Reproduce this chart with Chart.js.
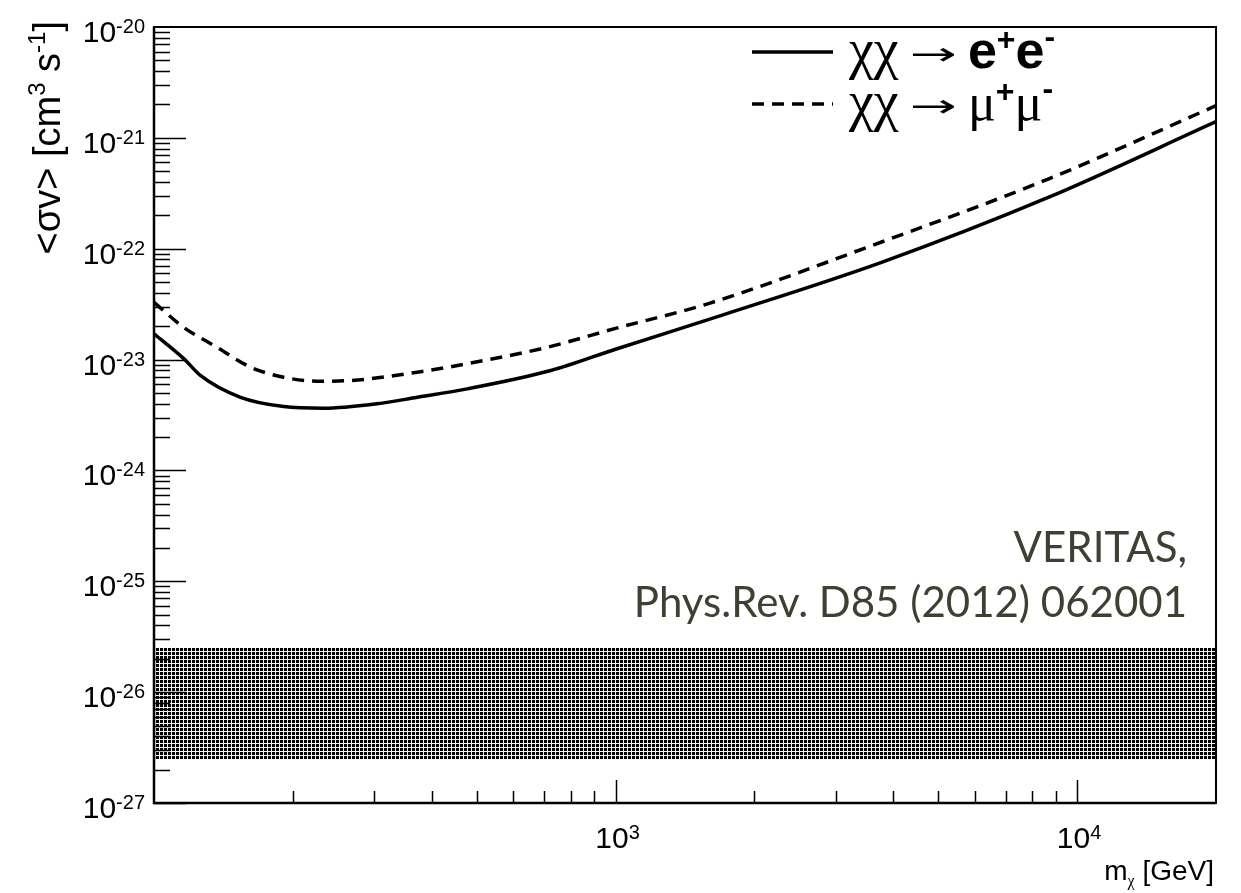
<!DOCTYPE html>
<html>
<head>
<meta charset="utf-8">
<script src="https://cdn.jsdelivr.net/npm/chart.js@4.4.1/dist/chart.umd.min.js"></script>
<style>
  html, body { margin: 0; padding: 0; background: #fff; }
  #wrap { width: 1241px; height: 893px; }
</style>
</head>
<body>
<div id="wrap"><canvas id="limits"></canvas></div>
<script>
// WIMP mass (GeV) and 95% upper limits on <sigma v> (cm^3 s^-1)
const massEE = [100, 116, 126, 154, 191, 233, 304, 372, 477, 724, 1000, 1690, 3770, 8660, 20000];
const sigmaEE = [1.71e-23, 1.02e-23, 7.2e-24, 4.57e-24, 3.77e-24, 3.64e-24, 3.99e-24, 4.57e-24, 5.44e-24, 7.96e-24, 1.24e-23, 2.49e-23, 7.53e-23, 2.90e-22, 1.40e-21];

const massMuMu = [100, 116, 137, 162, 191, 226, 266, 372, 518, 711, 1000, 1590, 3770, 8660, 20000];
const sigmaMuMu = [3.28e-23, 1.95e-23, 1.29e-23, 8.53e-24, 6.93e-24, 6.38e-24, 6.47e-24, 7.69e-24, 9.79e-24, 1.29e-23, 1.91e-23, 3.20e-23, 1.15e-22, 4.25e-22, 1.95e-21];

// thermal relic band
const bandMass = [100, 20000];
const bandLow = [2.5e-27, 2.5e-27];
const bandHigh = [2.5e-26, 2.5e-26];

// axis ranges and labelled decades
const xRange = [100, 20000];
const yRange = [1e-27, 1e-20];
const xLabelExps = [3, 4];
const yLabelExps = [-27, -26, -25, -24, -23, -22, -21, -20];

const SANS = '"Liberation Sans", Arial, sans-serif';
const SERIF = '"Liberation Serif", serif';

function pts(xs, ys) {
  return xs.map((x, i) => ({ x: x, y: ys[i] }));
}

// dark checker fill for the band
function hatch() {
  const c = document.createElement('canvas');
  c.width = 4; c.height = 4;
  const g = c.getContext('2d');
  g.fillStyle = '#f4f4f4';
  g.fillRect(0, 0, 4, 4);
  g.fillStyle = '#000';
  g.fillRect(0, 0, 3, 3);
  return g.createPattern(c, 'repeat');
}

// width of a run, with optional horizontal stretch to a set width
function partWidth(ctx, p) {
  ctx.font = p.font;
  return p.width || ctx.measureText(p.text).width;
}

function drawRich(ctx, parts, x, y, align) {
  let w = 0;
  parts.forEach(p => { w += partWidth(ctx, p); });
  let cx = x;
  if (align === 'right') cx = x - w;
  if (align === 'center') cx = x - w / 2;
  ctx.textAlign = 'left';
  ctx.textBaseline = 'alphabetic';
  parts.forEach(p => {
    ctx.font = p.font;
    const natural = ctx.measureText(p.text).width;
    const pw = partWidth(ctx, p);
    ctx.save();
    ctx.translate(cx, y + (p.dy || 0));
    ctx.scale(pw / natural, 1);
    ctx.fillText(p.text, 0, 0);
    ctx.restore();
    cx += pw;
  });
}

function decadeLabel(exp) {
  return [
    { text: '10', font: '30px ' + SANS },
    { text: String(exp), font: '20px ' + SANS, dy: -9 }
  ];
}

// frame, inward ticks and all the text, ROOT style
const rootFrame = {
  id: 'rootFrame',
  afterDatasetsDraw(chart) {
    const ctx = chart.ctx;
    const xa = chart.scales.x, ya = chart.scales.y;
    const { left, right, top, bottom } = chart.chartArea;
    ctx.save();
    ctx.strokeStyle = '#000';
    ctx.fillStyle = '#000';

    // y ticks
    ctx.lineWidth = 1.5;
    ctx.beginPath();
    for (let e = Math.log10(yRange[0]); e < Math.log10(yRange[1]); e++) {
      for (let m = 1; m < 10; m++) {
        const py = Math.round(ya.getPixelForValue(m * Math.pow(10, e))) + 0.5;
        ctx.moveTo(left, py);
        ctx.lineTo(left + (m === 1 ? 32 : 16), py);
      }
    }
    // x ticks
    for (let e = 2; e <= 4; e++) {
      for (let m = 1; m < 10; m++) {
        const v = m * Math.pow(10, e);
        if (v <= xRange[0] || v >= xRange[1]) continue;
        const px = Math.round(xa.getPixelForValue(v)) + 0.5;
        ctx.moveTo(px, bottom);
        ctx.lineTo(px, bottom - (m === 1 ? 23 : 12));
      }
    }
    ctx.stroke();

    // frame
    ctx.lineWidth = 2;
    ctx.strokeRect(left, top, right - left, bottom - top);
    ctx.lineWidth = 2.5;
    ctx.beginPath();
    ctx.moveTo(left, top);
    ctx.lineTo(left, bottom);
    ctx.lineTo(right, bottom);
    ctx.stroke();

    // tick labels
    yLabelExps.forEach(exp => {
      const py = ya.getPixelForValue(Math.pow(10, exp));
      drawRich(ctx, decadeLabel(exp), 145, py + 15, 'right');
    });
    xLabelExps.forEach(exp => {
      const px = xa.getPixelForValue(Math.pow(10, exp));
      drawRich(ctx, decadeLabel(exp), px + 2, 848, 'center');
    });

    // axis titles
    drawRich(ctx, [
      { text: 'm', font: '28px ' + SANS },
      { text: 'χ', font: '16px ' + SERIF, dy: 6 },
      { text: ' [GeV]', font: '28px ' + SANS }
    ], right - 2, 880, 'right');

    ctx.save();
    ctx.translate(60, top - 6);
    ctx.rotate(-Math.PI / 2);
    drawRich(ctx, [
      { text: '<σv> [cm', font: '38px ' + SANS },
      { text: '3', font: '24px ' + SANS, dy: -15 },
      { text: ' s', font: '38px ' + SANS },
      { text: '-1', font: '24px ' + SANS, dy: -15 },
      { text: ']', font: '38px ' + SANS }
    ], 0, 0, 'right');
    ctx.restore();

    // legend, styled from the datasets themselves
    const arrow = [
      { text: ' ', font: '40px ' + SANS },
      { text: '→', font: '32px "DejaVu Sans", sans-serif', width: 47, dy: -3 },
      { text: ' ', font: '40px ' + SANS }
    ];
    const chi = { text: 'χχ', font: '56px ' + SERIF };
    const rows = [
      { ds: chart.data.datasets[0], y: 52, parts: [chi].concat(arrow, [
        { text: 'e', font: 'bold 52px ' + SANS },
        { text: '+', font: 'bold 32px ' + SANS, dy: -18 },
        { text: 'e', font: 'bold 52px ' + SANS },
        { text: '-', font: 'bold 32px ' + SANS, dy: -21 }
      ]) },
      { ds: chart.data.datasets[1], y: 104, parts: [chi].concat(arrow, [
        { text: 'μ', font: '52px ' + SERIF },
        { text: '+', font: 'bold 32px ' + SANS, dy: -18 },
        { text: 'μ', font: '52px ' + SERIF },
        { text: '-', font: 'bold 32px ' + SANS, dy: -21 }
      ]) }
    ];
    rows.forEach(r => {
      ctx.lineWidth = r.ds.borderWidth;
      ctx.setLineDash(r.ds.borderDash || []);
      ctx.beginPath();
      ctx.moveTo(752, r.y);
      ctx.lineTo(833, r.y);
      ctx.stroke();
      ctx.setLineDash([]);
      drawRich(ctx, r.parts, 849, r.y + 16, 'left');
    });

    // reference note
    ctx.fillStyle = '#3f3f33';
    drawRich(ctx, [{ text: 'VERITAS,', font: '42px Lato, sans-serif' }], 1187, 562, 'right');
    drawRich(ctx, [{ text: 'Phys.Rev. D85 (2012) 062001', font: '42px Lato, sans-serif' }], 1187, 617, 'right');

    ctx.restore();
  }
};

const hidden = {
  ticks: { display: false },
  grid: { display: false },
  border: { display: false },
  title: { display: false }
};

new Chart(document.getElementById('limits'), {
  type: 'line',
  data: {
    datasets: [
      {
        label: 'χχ → e+e-',
        data: pts(massEE, sigmaEE),
        borderColor: '#000',
        borderWidth: 3.5,
        pointRadius: 0,
        cubicInterpolationMode: 'monotone',
        fill: false
      },
      {
        label: 'χχ → μ+μ-',
        data: pts(massMuMu, sigmaMuMu),
        borderColor: '#000',
        borderWidth: 3.5,
        borderDash: [12, 8],
        pointRadius: 0,
        cubicInterpolationMode: 'monotone',
        fill: false
      },
      {
        label: 'band top',
        data: pts(bandMass, bandHigh),
        borderWidth: 0,
        pointRadius: 0,
        backgroundColor: hatch(),
        fill: '+1'
      },
      {
        label: 'band bottom',
        data: pts(bandMass, bandLow),
        borderWidth: 0,
        pointRadius: 0,
        fill: false
      }
    ]
  },
  options: {
    responsive: true,
    maintainAspectRatio: false,
    animation: false,
    layout: { padding: { left: 154, right: 25, top: 27, bottom: 90 } },
    scales: {
      x: Object.assign({ type: 'logarithmic', min: xRange[0], max: xRange[1],
        afterFit: s => { s.height = 0; } }, hidden),
      y: Object.assign({ type: 'logarithmic', min: yRange[0], max: yRange[1],
        afterFit: s => { s.width = 0; } }, hidden)
    },
    plugins: {
      legend: { display: false },
      tooltip: { enabled: false }
    }
  },
  plugins: [rootFrame]
});
</script>
</body>
</html>
